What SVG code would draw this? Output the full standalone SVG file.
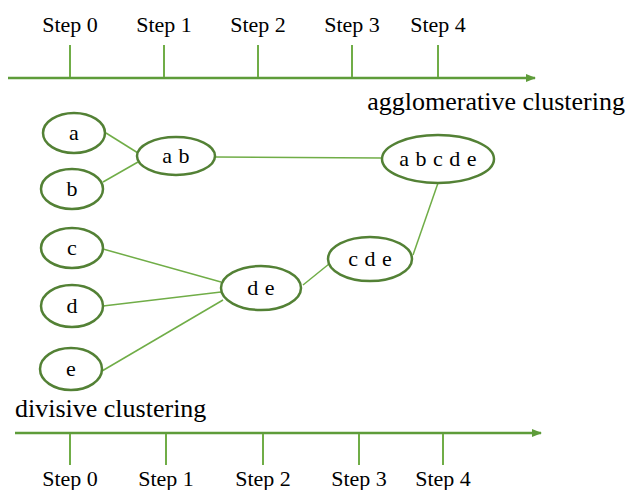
<svg xmlns="http://www.w3.org/2000/svg" width="630" height="490" viewBox="0 0 630 490">
<style>
.node ellipse{fill:#fff;stroke:#538135;stroke-width:2.5}
.node text{font-family:"Liberation Serif",serif;font-size:22px;fill:#000;text-anchor:middle;word-spacing:1px}
.step{font-family:"Liberation Serif",serif;font-size:22px;fill:#000;text-anchor:middle}
.title{font-family:"Liberation Serif",serif;font-size:26px;fill:#000}
.axis{stroke:#5e9c3a;stroke-width:2.5;fill:none}
.tick{stroke:#70ad47;stroke-width:2}
.edge{stroke:#70ad47;stroke-width:1.5;fill:none}
</style>
<defs>
<marker id="arr" markerWidth="10" markerHeight="8" refX="9" refY="4" orient="auto" markerUnits="userSpaceOnUse">
<path d="M0,0 L10,4 L0,8 Z" fill="#5e9c3a"/>
</marker>
</defs>
<g id="top-axis">
<line class="axis" x1="8" y1="78" x2="535" y2="78" marker-end="url(#arr)"/>
<line class="tick" x1="70" y1="45" x2="70" y2="77"/>
<line class="tick" x1="164" y1="45" x2="164" y2="77"/>
<line class="tick" x1="258" y1="45" x2="258" y2="77"/>
<line class="tick" x1="352" y1="45" x2="352" y2="77"/>
<line class="tick" x1="438" y1="45" x2="438" y2="77"/>
<text class="step" x="70" y="32">Step 0</text>
<text class="step" x="164" y="32">Step 1</text>
<text class="step" x="258" y="32">Step 2</text>
<text class="step" x="352" y="32">Step 3</text>
<text class="step" x="438" y="32">Step 4</text>
<text class="title" x="625" y="110" text-anchor="end">agglomerative clustering</text>
</g>
<g id="bottom-axis">
<line class="axis" x1="15" y1="433" x2="541" y2="433" marker-end="url(#arr)"/>
<line class="tick" x1="70" y1="434" x2="70" y2="465"/>
<line class="tick" x1="166" y1="434" x2="166" y2="465"/>
<line class="tick" x1="263" y1="434" x2="263" y2="465"/>
<line class="tick" x1="359" y1="434" x2="359" y2="465"/>
<line class="tick" x1="443" y1="434" x2="443" y2="465"/>
<text class="step" x="70" y="486">Step 0</text>
<text class="step" x="166" y="486">Step 1</text>
<text class="step" x="263" y="486">Step 2</text>
<text class="step" x="359" y="486">Step 3</text>
<text class="step" x="443" y="486">Step 4</text>
<text class="title" x="15" y="417">divisive clustering</text>
</g>
<g id="connectors">
<line class="edge" x1="106" y1="133" x2="138" y2="153"/>
<line class="edge" x1="103" y1="182" x2="138" y2="162"/>
<line class="edge" x1="215" y1="157" x2="382" y2="158"/>
<line class="edge" x1="103" y1="249" x2="221" y2="282"/>
<line class="edge" x1="103" y1="306" x2="221" y2="292"/>
<line class="edge" x1="102" y1="371" x2="223" y2="300"/>
<line class="edge" x1="303" y1="285" x2="329" y2="264"/>
<line class="edge" x1="413" y1="255" x2="438" y2="183"/>
</g>
<g id="a" class="node"><ellipse cx="74" cy="133" rx="31" ry="20"/><text x="74" y="140">a</text></g>
<g id="b" class="node"><ellipse cx="72" cy="189" rx="31" ry="20"/><text x="72" y="196">b</text></g>
<g id="c" class="node"><ellipse cx="72" cy="248" rx="31" ry="20"/><text x="72" y="255">c</text></g>
<g id="d" class="node"><ellipse cx="72" cy="306" rx="31" ry="21"/><text x="72" y="313">d</text></g>
<g id="e" class="node"><ellipse cx="71" cy="369" rx="31" ry="21"/><text x="71" y="376">e</text></g>
<g id="ab" class="node"><ellipse cx="176" cy="156" rx="39" ry="19"/><text x="176" y="163">a b</text></g>
<g id="de" class="node"><ellipse cx="261" cy="288" rx="40" ry="22"/><text x="261" y="295">d e</text></g>
<g id="cde" class="node"><ellipse cx="370" cy="259" rx="42" ry="22"/><text x="370" y="266">c d e</text></g>
<g id="abcde" class="node"><ellipse cx="438" cy="159" rx="56" ry="24"/><text x="438" y="166">a b c d e</text></g>
</svg>
